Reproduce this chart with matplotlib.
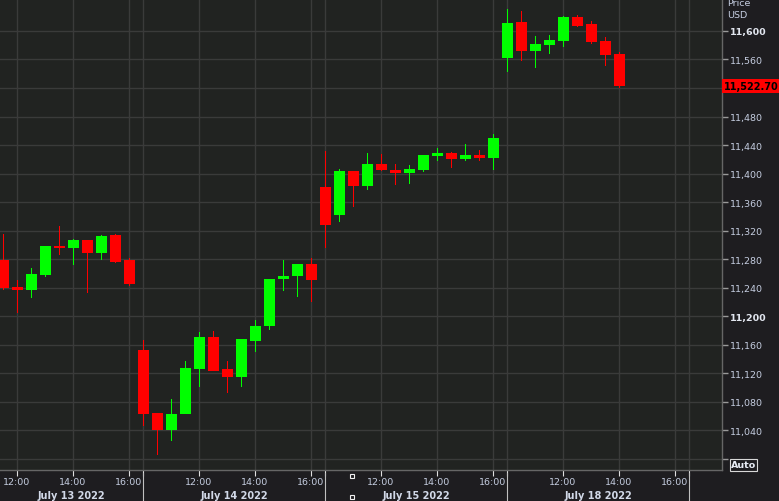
import matplotlib.pyplot as plt
from matplotlib.transforms import blended_transform_factory
from matplotlib.lines import Line2D

# 30-minute bars, each session runs 10:00 .. 16:00 (13 bars)
sessions = ["July 13 2022", "July 14 2022", "July 15 2022", "July 18 2022"]
time_ticks = ["12:00", "14:00", "16:00"]
bars_per_session = 13
session_open = "10:00"
first_bar = (0, "11:30")   # (session, time) of first visible bar

opens = [11279, 11241, 11236, 11258, 11298, 11295, 11307, 11289, 11314, 11278,
         11152, 11064, 11040, 11062, 11126, 11170, 11126, 11115, 11165, 11186,
         11252, 11256, 11273,
         11381, 11342, 11403, 11382, 11413, 11405, 11401, 11405, 11425, 11429,
         11421, 11426, 11422,
         11562, 11613, 11572, 11581, 11586, 11620, 11610, 11586, 11568]
highs = [11315, 11250, 11268, 11298, 11327, 11308, 11307, 11314, 11315, 11281,
         11167, 11064, 11083, 11137, 11178, 11179, 11137, 11168, 11194, 11252,
         11279, 11273, 11281,
         11431, 11406, 11404, 11429, 11427, 11413, 11412, 11426, 11436, 11430,
         11441, 11433, 11455,
         11631, 11628, 11593, 11594, 11621, 11622, 11614, 11592, 11570]
lows = [11237, 11204, 11225, 11255, 11285, 11272, 11233, 11279, 11275, 11242,
        11045, 11005, 11024, 11062, 11101, 11123, 11092, 11101, 11150, 11180,
        11235, 11227, 11219,
        11295, 11332, 11353, 11377, 11403, 11384, 11385, 11402, 11417, 11408,
        11418, 11417, 11405,
        11543, 11558, 11548, 11568, 11578, 11605, 11582, 11551, 11520]
closes = [11239, 11236, 11259, 11298, 11295, 11307, 11289, 11312, 11276, 11245,
          11062, 11040, 11062, 11127, 11170, 11123, 11115, 11168, 11186, 11252,
          11256, 11273, 11251,
          11328, 11403, 11382, 11413, 11405, 11401, 11406, 11426, 11429, 11421,
          11426, 11422, 11450,
          11611, 11572, 11582, 11587, 11620, 11607, 11585, 11567, 11522.7]
last_price = 11522.70

price_ticks = list(range(11000, 11601, 40))
hidden_prices = [11000, 11520]   # covered by the Auto button / price tag
bold_prices = [11200, 11600]

UP = "#00ff00"
DOWN = "#ff0000"
BG = "#212321"
OUTER = "#1e1d20"
GRID = "#3a3b3a"
TXT = "#c5cde0"

PX = 1 / 14   # one pixel in slot units


def minutes(t):
    h, m = t.split(":")
    return int(h) * 60 + int(m)


def slot(session, t):
    return session * bars_per_session + (minutes(t) - minutes(session_open)) // 30


x0 = slot(*first_bar)
xs = [x0 + k for k in range(len(opens))]

fig = plt.figure(figsize=(7.79, 5.02), dpi=100, facecolor=OUTER)
ax = fig.add_axes([0, 31 / 502, 722 / 779, 471 / 502])
ax.set_facecolor(BG)

# candles (nudged half a pixel so wicks land on whole pixels)
for x, o, h, l, c in zip(xs, opens, highs, lows, closes):
    col = UP if c >= o else DOWN
    xc = x + PX / 2
    ax.bar(xc, h - l, bottom=l, width=PX, color=col, zorder=3, linewidth=0)
    ax.bar(xc, max(abs(c - o), 1.8), bottom=min(o, c), width=11 * PX,
           color=col, zorder=4, linewidth=0)

ax.set_xlim(39 / 14, 761 / 14)
ax.set_ylim(10983.9, 11644.9)

# price axis
ax.yaxis.tick_right()
ax.set_yticks(price_ticks)
ax.set_yticklabels(["" if p in hidden_prices else f"{p:,}" for p in price_ticks])
ax.tick_params(axis="y", length=4, width=1, color="#9a9a9a", labelcolor=TXT,
               labelsize=6.8, pad=2)
for lab, p in zip(ax.get_yticklabels(), price_ticks):
    if p in bold_prices:
        lab.set_fontweight("bold")
        lab.set_color("#e2e6ef")

# time axis
tick_pos, tick_lab = [], []
for s in range(len(sessions)):
    for t in time_ticks:
        tick_pos.append(slot(s, t))
        tick_lab.append(t)
bounds = [slot(s, session_open) for s in range(1, len(sessions) + 1)]
ax.set_xticks(tick_pos)
ax.set_xticklabels(tick_lab)
ax.set_xticks(bounds, minor=True)
ax.tick_params(axis="x", which="both", length=4, width=0.8, color="#e0e0e0",
               labelcolor=TXT, labelsize=6.8, pad=1)

ax.grid(True, which="both", color=GRID, lw=1, zorder=0)
for sp in ["top", "left"]:
    ax.spines[sp].set_visible(False)
for sp in ["right", "bottom"]:
    ax.spines[sp].set_color("#666666")
    ax.spines[sp].set_linewidth(1)

# date row + session separators
tr = blended_transform_factory(ax.transData, fig.transFigure)
lo, hi = ax.get_xlim()
for s, name in enumerate(sessions):
    a = max(slot(s, session_open), lo)
    b = min(slot(s + 1, session_open), hi)
    ax.text((a + b) / 2, 6 / 502, name, transform=tr, ha="center", va="center",
            fontsize=7, fontweight="bold", color="#d2d9e8", clip_on=False)
for b in bounds:
    fig.add_artist(Line2D([b, b], [0, 28 / 502], transform=tr,
                          color="#c0c0c0", lw=0.8))

# crosshair handles
ax.plot([27.9, 27.9], [25 / 502, 4 / 502], transform=tr, ls="none", marker="s",
        ms=3.5, mfc="none", mec="#f0f0f0", mew=0.8, clip_on=False)

# last price tag
trp = blended_transform_factory(ax.transAxes, ax.transData)
ax.text(1 + 1.5 / 722, last_price, f"{last_price:,.2f}", transform=trp,
        ha="left", va="center", fontsize=7, fontweight="bold", color="black",
        bbox=dict(facecolor=DOWN, edgecolor="none", pad=1.3), clip_on=False,
        zorder=10)

# axis title and auto button
fig.text(727 / 779, 1 - 3 / 502, "Price", fontsize=6.8, color=TXT,
         ha="left", va="center")
fig.text(727 / 779, 1 - 16 / 502, "USD", fontsize=6.8, color=TXT,
         ha="left", va="center")
fig.text(731 / 779, 1 - 466 / 502, "Auto", fontsize=6.8, fontweight="bold",
         color="#e8ecf5", ha="left", va="center",
         bbox=dict(facecolor=OUTER, edgecolor="#d8d8d8", lw=0.8, pad=0.8))

fig.savefig("out.png", dpi=100, facecolor=OUTER)
